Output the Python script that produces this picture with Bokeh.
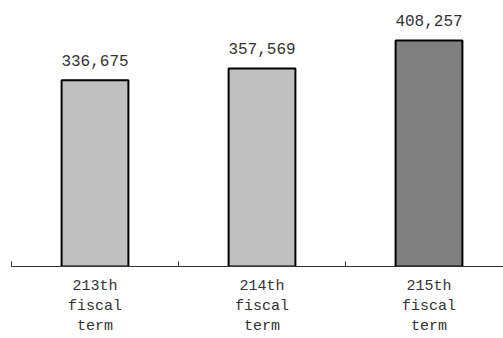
from bokeh.plotting import figure
from bokeh.models import ColumnDataSource, Range1d, FixedTicker
from bokeh.core.properties import value
from bokeh.embed import file_html
from bokeh.resources import INLINE

terms = ["213th\nfiscal\nterm", "214th\nfiscal\nterm", "215th\nfiscal\nterm"]
values = [336675, 357569, 408257]
labels = ["336,675", "357,569", "408,257"]
colors = ["#c0c0c0", "#c0c0c0", "#808080"]

xs = list(range(len(values)))
src = ColumnDataSource(dict(x=xs, top=values, label=labels, color=colors))

p = figure(width=503, height=338, output_backend="svg", toolbar_location=None,
           x_range=Range1d(-0.5, -0.5 + 492 / 167), y_range=Range1d(0, max(values) * 266 / 226),
           min_border_left=11, min_border_right=0, min_border_top=0, min_border_bottom=72)
p.outline_line_color = None
p.grid.visible = False
p.background_fill_color = "white"
p.border_fill_color = "white"

p.vbar(x="x", top="top", width=0.4, bottom=0, source=src, fill_color="color",
       line_color="black", line_width=2)
p.text(x="x", y="top", text="label", source=src, text_align="center", text_baseline="middle",
       y_offset=-20, text_font=value("Liberation Mono"), text_font_size="16px", text_color="#333333")

p.yaxis.visible = False
ax = p.xaxis[0]
ax.ticker = FixedTicker(ticks=xs, minor_ticks=[-0.5, 0.5, 1.5, 2.5])
ax.major_label_overrides = {i: t for i, t in zip(xs, terms)}
ax.major_tick_in = 0
ax.major_tick_out = 0
ax.minor_tick_in = 5
ax.minor_tick_out = 0
ax.minor_tick_line_color = "#333333"
ax.axis_line_color = "#333333"
ax.major_label_text_font = "Liberation Mono"
ax.major_label_text_font_size = "15px"
ax.major_label_text_color = "#333333"
ax.major_label_standoff = 11

open("out.html", "w").write(file_html(p, INLINE))
